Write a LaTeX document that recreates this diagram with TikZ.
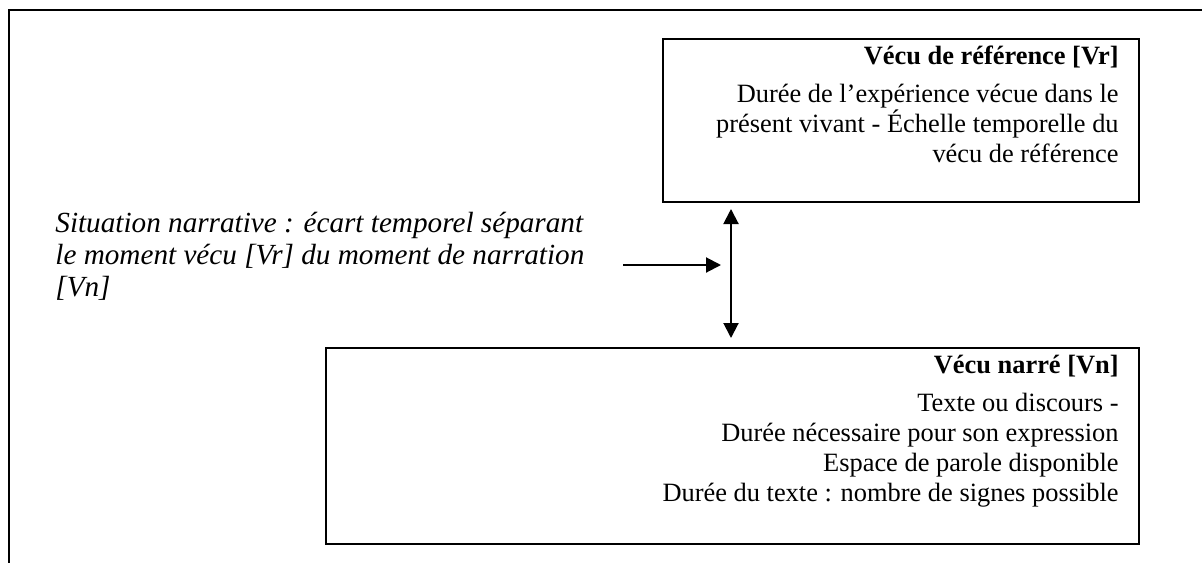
\documentclass[tikz,border=0pt]{standalone}
\usepackage{fontspec}
\setmainfont{Liberation Serif}
\usetikzlibrary{arrows.meta}
\begin{document}
\begin{tikzpicture}[x=0.5pt,y=-0.5pt,
  frameline/.style={line width=1pt,line cap=rect},
  boxstyle/.style={draw,line width=1pt,inner sep=0,anchor=north west},
  txt/.style={inner sep=0,anchor=base east,font=\fontsize{13.2}{15}\selectfont},
  ttl/.style={txt,font=\fontsize{13.2}{15}\selectfont\bfseries},
  itx/.style={inner sep=0,anchor=base west,font=\fontsize{14.6}{16}\selectfont\itshape},
  conn/.style={line width=1pt,-{Triangle[length=7.5pt,width=7.5pt]}},
  conn2/.style={line width=1pt,{Triangle[length=7.5pt,width=7.5pt]}-{Triangle[length=7.5pt,width=7.5pt]}}]
\useasboundingbox (0,0) rectangle (1203,562);
% outer frame (open on right and bottom)
\draw[frameline] (9,562) -- (9,10) -- (1201,10);
% boxes
\node[boxstyle,minimum width=238pt,minimum height=81.5pt] (vr) at (662,38) {};
\node[boxstyle,minimum width=406.5pt,minimum height=98pt] (vn) at (325,347) {};
% texts top box
\node[ttl] (vrt) at (1119,64) {Vécu de référence [Vr]};
\node[txt] (vr1) at (1119,102) {Durée de l’expérience vécue dans le};
\node[txt] (vr2) at (1119,132) {présent vivant - Échelle temporelle du};
\node[txt] (vr3) at (1119,162) {vécu de référence};
% texts bottom box
\node[ttl] (vnt) at (1119,373) {Vécu narré [Vn]};
\node[txt] (vn1) at (1119,411) {Texte ou discours -};
\node[txt] (vn2) at (1119,441) {Durée nécessaire pour son expression};
\node[txt] (vn3) at (1119,471) {Espace de parole disponible};
\node[txt] (vn4) at (1119,501) {Durée du texte : nombre de signes possible};
% left italic text
\node[itx] (s1) at (55,232) {Situation narrative : écart temporel séparant};
\node[itx] (s2) at (55,264) {le moment vécu [Vr] du moment de narration};
\node[itx] (s3) at (55,296) {[Vn]};
% connectors
\coordinate (atop) at (731,209);
\coordinate (abot) at (731,338);
\draw[conn2] (atop) -- (abot);
\coordinate (hs) at (623,265);
\coordinate (he) at (721,265);
\draw[conn] (hs) -- (he);
\end{tikzpicture}
\end{document}
